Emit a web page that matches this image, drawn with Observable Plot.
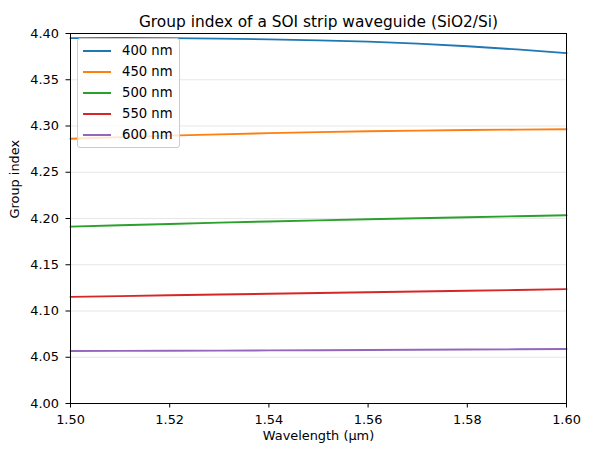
<!DOCTYPE html>
<html>
<head>
<meta charset="utf-8">
<script src="https://cdn.jsdelivr.net/npm/d3@7"></script>
<script src="https://cdn.jsdelivr.net/npm/@observablehq/plot@0.6"></script>
<style>
  html, body { margin: 0; padding: 0; background: #fff; }
  #chart { position: relative; width: 591px; height: 455px; font-family: "DejaVu Sans", sans-serif; }
  #legend {
    position: absolute; left: 77px; top: 38px; width: 103px; height: 110px;
    background: rgba(255,255,255,0.8); border: 1px solid #cccccc; border-radius: 3px;
    box-sizing: border-box; font-size: 13.2px; color: #000;
  }
  #legend .row { position: absolute; left: 0; height: 21px; display: flex; align-items: center; }
  #legend .swatch { position: absolute; left: 5px; width: 28px; height: 2px; }
  #legend .lab { position: absolute; left: 44px; white-space: nowrap; }
</style>
</head>
<body>
<div id="chart"></div>
<script>
// Waveguide core widths and group index across the C/L band
const widths = ["400 nm", "450 nm", "500 nm", "550 nm", "600 nm"];
const colors = ["#1f77b4", "#ff7f0e", "#2ca02c", "#d62728", "#9467bd"];
const wavelength = [1.50, 1.51, 1.52, 1.53, 1.54, 1.55, 1.56, 1.57, 1.58, 1.59, 1.60];
const ng400 = [4.3950, 4.3952, 4.3950, 4.3945, 4.3937, 4.3926, 4.3912, 4.3890, 4.3862, 4.3828, 4.3788];
const ng450 = [4.2862, 4.2880, 4.2896, 4.2910, 4.2923, 4.2934, 4.2943, 4.2950, 4.2956, 4.2961, 4.2965];
const ng500 = [4.1912, 4.1927, 4.1941, 4.1955, 4.1968, 4.1980, 4.1992, 4.2003, 4.2014, 4.2025, 4.2035];
const ng550 = [4.1153, 4.1161, 4.1170, 4.1178, 4.1186, 4.1194, 4.1202, 4.1211, 4.1219, 4.1227, 4.1236];
const ng600 = [4.0568, 4.0569, 4.0570, 4.0572, 4.0574, 4.0576, 4.0578, 4.0581, 4.0583, 4.0586, 4.0589];
const xTicks = [1.50, 1.52, 1.54, 1.56, 1.58, 1.60];
const yTicks = [4.00, 4.05, 4.10, 4.15, 4.20, 4.25, 4.30, 4.35, 4.40];

const series = [ng400, ng450, ng500, ng550, ng600];
const rows = widths.flatMap((w, i) => wavelength.map((x, j) => ({width: w, x, ng: series[i][j]})));

const fs = 12.9;
const chart = Plot.plot({
  width: 591,
  height: 455,
  marginLeft: 70,
  marginRight: 25,
  marginTop: 33,
  marginBottom: 52,
  style: {fontFamily: "DejaVu Sans, sans-serif", fontSize: fs + "px", background: "white", color: "black"},
  x: {domain: [1.5, 1.6]},
  y: {domain: [4.0, 4.4]},
  color: {domain: widths, range: colors},
  marks: [
    Plot.gridY(yTicks, {stroke: "#b0b0b0", strokeOpacity: 0.3, strokeWidth: 1}),
    Plot.line(rows, {x: "x", y: "ng", z: "width", stroke: "width", strokeWidth: 1.9}),
    Plot.frame({stroke: "black", strokeWidth: 1}),
    Plot.axisX({ticks: xTicks, tickFormat: ".2f", tickSize: 4.5, tickPadding: 7, label: null, fontSize: fs}),
    Plot.axisY({ticks: yTicks, tickFormat: ".2f", tickSize: 4.5, tickPadding: 7, label: null, fontSize: fs}),
    Plot.text(["Group index of a SOI strip waveguide (SiO2/Si)"], {frameAnchor: "top", dy: -17, fontSize: 15.4}),
    Plot.text(["Wavelength (μm)"], {frameAnchor: "bottom", dy: 36, fontSize: fs}),
    Plot.text(["Group index"], {frameAnchor: "left", dx: -56, rotate: -90, fontSize: fs})
  ]
});
const host = document.getElementById("chart");
host.appendChild(chart);

// Legend box in the upper-left corner of the axes
const legend = document.createElement("div");
legend.id = "legend";
widths.forEach((w, i) => {
  const row = document.createElement("div");
  row.className = "row";
  row.style.top = (1 + i * 21) + "px";
  row.innerHTML = `<span class="swatch" style="background:${colors[i]}"></span><span class="lab">${w}</span>`;
  legend.appendChild(row);
});
host.appendChild(legend);
</script>
</body>
</html>
